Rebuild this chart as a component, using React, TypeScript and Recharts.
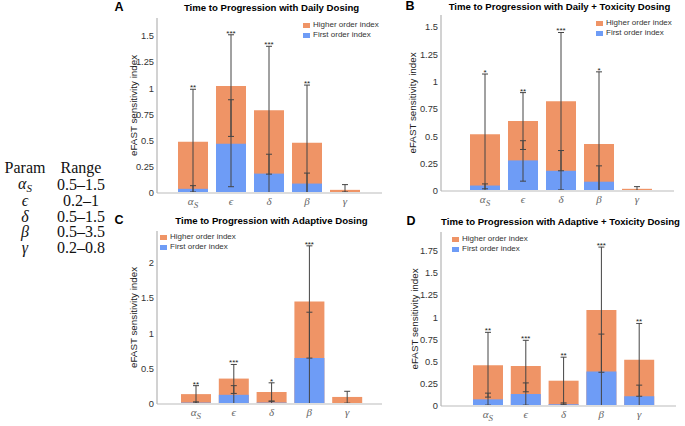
import React from 'react';
import { Bar, ComposedChart, ErrorBar, LabelList, Legend, Line, XAxis, YAxis } from 'recharts';

// parameters and their sampled ranges
const params = ['α_S', 'ϵ', 'δ', 'β', 'γ'];
const ranges = ['0.5–1.5', '0.2–1', '0.5–1.5', '0.5–3.5', '0.2–0.8'];
const seriesNames = ['Higher order index', 'First order index'];

// A: daily dosing
const dailyFirst = [0.04, 0.47, 0.185, 0.09, 0.005];
const dailyTotal = [0.49, 1.02, 0.79, 0.48, 0.03];
const dailyFirstCI = [[0.01, 0.07], [0.06, 0.89], [0, 0.37], [0, 0.19], [0, 0.01]];
const dailyTotalCI = [[0, 0.99], [0.54, 1.51], [0.18, 1.4], [0, 1.03], [0, 0.08]];
const dailyStars = ['**', '***', '***', '**', ''];

// B: daily + toxicity dosing
const dailyToxFirst = [0.05, 0.28, 0.185, 0.085, 0.003];
const dailyToxTotal = [0.52, 0.64, 0.82, 0.43, 0.02];
const dailyToxFirstCI = [[0.02, 0.065], [0.09, 0.46], [0.01, 0.37], [0, 0.23], [0, 0.005]];
const dailyToxTotalCI = [[0, 1.07], [0.38, 0.9], [0.185, 1.45], [0, 1.09], [0, 0.04]];
const dailyToxStars = ['*', '**', '***', '*', ''];

// C: adaptive dosing
const adaptiveFirst = [0.02, 0.13, 0.02, 0.65, 0.005];
const adaptiveTotal = [0.14, 0.36, 0.17, 1.45, 0.1];
const adaptiveFirstCI = [[0.01, 0.03], [0, 0.26], [0, 0.04], [0, 1.3], [0, 0.01]];
const adaptiveTotalCI = [[0.01, 0.26], [0.15, 0.56], [0.04, 0.3], [0.65, 2.24], [0.01, 0.18]];
const adaptiveStars = ['**', '***', '*', '***', ''];

// D: adaptive + toxicity dosing
const adaptiveToxFirst = [0.075, 0.135, 0.02, 0.39, 0.11];
const adaptiveToxTotal = [0.46, 0.45, 0.285, 1.08, 0.52];
const adaptiveToxFirstCI = [[0.01, 0.145], [0.01, 0.26], [0.01, 0.035], [0, 0.81], [0, 0.235]];
const adaptiveToxTotalCI = [[0.1, 0.83], [0.16, 0.74], [0.02, 0.55], [0.38, 1.79], [0.11, 0.93]];
const adaptiveToxStars = ['**', '***', '**', '***', '**'];

const ORANGE = '#ef9466';
const BLUE = '#6e9cf6';
const SANS = '"Liberation Sans", Arial, Helvetica, sans-serif';
const SERIF = '"Liberation Serif", "DejaVu Serif", serif';

function buildRows(first: number[], total: number[], firstCI: number[][], totalCI: number[][], stars: string[]) {
  return params.map((p, i) => ({
    param: p,
    first: first[i],
    total: total[i],
    firstErr: [first[i] - firstCI[i][0], firstCI[i][1] - first[i]],
    totalErr: [total[i] - totalCI[i][0], totalCI[i][1] - total[i]],
    top: totalCI[i][1],
    stars: stars[i],
  }));
}

function ParamTick({ x, y, payload }: any) {
  const [base, sub] = String(payload.value).split('_');
  return (
    <text x={x} y={y + 12} textAnchor="middle" fontFamily={SERIF} fontStyle="italic" fontSize={11} fill="#666">
      {base}
      {sub && (
        <tspan fontSize={9} dy={3}>
          {sub}
        </tspan>
      )}
    </text>
  );
}

function SwatchLegend() {
  const colors = [ORANGE, BLUE];
  return (
    <div style={{ fontFamily: SANS, fontSize: 8, color: '#333', lineHeight: '10px', whiteSpace: 'nowrap' }}>
      {seriesNames.map((name, i) => (
        <div key={name} style={{ display: 'flex', alignItems: 'center' }}>
          <span style={{ width: 7, height: 5, background: colors[i], marginRight: 3, display: 'inline-block' }} />
          {name}
        </div>
      ))}
    </div>
  );
}

type PanelProps = {
  letter: string;
  title: string;
  rows: any[];
  x0: number;
  x1: number;
  y0: number;
  y1: number;
  yMax: number;
  yTicks: number[];
  padL: number;
  padR: number;
  legendX: number;
  legendY: number;
  labelX: number;
  letterX: number;
  titleY: number;
};

function Panel(p: PanelProps) {
  const ML = 45;
  const MT = 10;
  const MB = 25;
  const MR = 5;
  const left = p.x0 - ML;
  const top = p.y0 - MT;
  const width = p.x1 - p.x0 + ML + MR;
  const height = p.y1 - p.y0 + MT + MB;
  const pad = { left: p.padL, right: p.padR };
  return (
    <>
      <div
        style={{
          position: 'absolute',
          left: p.letterX,
          top: p.titleY - 8,
          transform: 'translateX(-50%)',
          fontFamily: SANS,
          fontWeight: 'bold',
          fontSize: 12.5,
        }}
      >
        {p.letter}
      </div>
      <div
        style={{
          position: 'absolute',
          left: (p.x0 + p.x1) / 2 + 2,
          top: p.titleY - 6,
          transform: 'translateX(-50%)',
          fontFamily: SANS,
          fontWeight: 'bold',
          fontSize: 9.6,
          whiteSpace: 'nowrap',
        }}
      >
        {p.title}
      </div>
      <div style={{ position: 'absolute', left, top }}>
        <ComposedChart width={width} height={height} data={p.rows} margin={{ top: MT, right: MR, bottom: 0, left: 5 }}>
          <XAxis
            xAxisId="a"
            dataKey="param"
            height={MB}
            padding={pad}
            interval={0}
            tick={<ParamTick />}
            tickLine={false}
            tickSize={0}
            tickMargin={0}
            axisLine={{ stroke: '#dddddd', strokeWidth: 2 }}
          />
          <XAxis xAxisId="b" dataKey="param" hide padding={pad} />
          <YAxis
            width={40}
            domain={[0, p.yMax]}
            ticks={p.yTicks}
            allowDataOverflow
            tickLine={false}
            tickSize={0}
            tickMargin={3}
            axisLine={{ stroke: '#b4b4b4', strokeWidth: 1.2 }}
            tick={{ fontSize: 9.3, fontFamily: SANS, fill: '#333' }}
            label={{
              value: 'eFAST sensitivity index',
              angle: -90,
              position: 'insideLeft',
              offset: p.labelX - left - 5,
              style: { textAnchor: 'middle', fontSize: 9.8, fontFamily: SANS, fill: '#222' },
            }}
          />
          <Legend
            layout="vertical"
            align="center"
            verticalAlign="middle"
            content={<SwatchLegend />}
            wrapperStyle={{ left: p.legendX - left, top: p.legendY - top - 5, width: 'auto', height: 'auto' }}
          />
          <Bar xAxisId="a" dataKey="total" name={seriesNames[0]} fill={ORANGE} barSize={30} isAnimationActive={false}>
            <ErrorBar dataKey="totalErr" direction="y" width={3} stroke="#444" strokeWidth={1} isAnimationActive={false} />
          </Bar>
          <Bar xAxisId="b" dataKey="first" name={seriesNames[1]} fill={BLUE} barSize={30} isAnimationActive={false}>
            <ErrorBar dataKey="firstErr" direction="y" width={3} stroke="#444" strokeWidth={1} isAnimationActive={false} />
          </Bar>
          <Line
            xAxisId="a"
            dataKey="top"
            stroke="none"
            dot={false}
            activeDot={false}
            legendType="none"
            isAnimationActive={false}
          >
            <LabelList dataKey="stars" position="top" offset={-1} fontSize={8} fill="#222" fontFamily={SANS} />
          </Line>
        </ComposedChart>
      </div>
    </>
  );
}

function ParamTable() {
  const cell: React.CSSProperties = { height: 15.5, padding: 0, textAlign: 'center', lineHeight: '15.5px' };
  return (
    <table
      style={{
        position: 'absolute',
        left: 0,
        top: 160,
        borderCollapse: 'collapse',
        fontFamily: SERIF,
        fontSize: 16,
        color: '#111',
      }}
    >
      <tbody>
        <tr>
          <td style={{ ...cell, width: 50 }}>Param</td>
          <td style={{ ...cell, width: 62 }}>Range</td>
        </tr>
        {params.map((prm, i) => {
          const [base, sub] = prm.split('_');
          return (
            <tr key={prm}>
              <td style={{ ...cell, fontStyle: 'italic' }}>
                {base}
                {sub && <span style={{ fontSize: 11, position: 'relative', top: 3 }}>{sub}</span>}
              </td>
              <td style={cell}>{ranges[i]}</td>
            </tr>
          );
        })}
      </tbody>
    </table>
  );
}

export default function App() {
  return (
    <div style={{ position: 'absolute', left: 0, top: 0, width: 685, height: 426, background: '#fff', overflow: 'hidden' }}>
      <ParamTable />
      <Panel
        letter="A"
        title="Time to Progression with Daily Dosing"
        rows={buildRows(dailyFirst, dailyTotal, dailyFirstCI, dailyTotalCI, dailyStars)}
        x0={157}
        x1={382}
        y0={18}
        y1={193}
        yMax={1.67}
        yTicks={[0, 0.25, 0.5, 0.75, 1, 1.25, 1.5]}
        padL={17}
        padR={18}
        legendX={303}
        legendY={25}
        labelX={134}
        letterX={119}
        titleY={8}
      />
      <Panel
        letter="B"
        title="Time to Progression with Daily + Toxicity Dosing"
        rows={buildRows(dailyToxFirst, dailyToxTotal, dailyToxFirstCI, dailyToxTotalCI, dailyToxStars)}
        x0={441}
        x1={674}
        y0={15}
        y1={191}
        yMax={1.61}
        yTicks={[0, 0.25, 0.5, 0.75, 1, 1.25, 1.5]}
        padL={25}
        padR={18}
        legendX={596}
        legendY={23}
        labelX={413}
        letterX={410}
        titleY={7}
      />
      <Panel
        letter="C"
        title="Time to Progression with Adaptive Dosing"
        rows={buildRows(adaptiveFirst, adaptiveTotal, adaptiveFirstCI, adaptiveTotalCI, adaptiveStars)}
        x0={157}
        x1={382}
        y0={231}
        y1={404}
        yMax={2.45}
        yTicks={[0, 0.5, 1, 1.5, 2]}
        padL={20}
        padR={16}
        legendX={160}
        legendY={237}
        labelX={134}
        letterX={119}
        titleY={221}
      />
      <Panel
        letter="D"
        title="Time to Progression with Adaptive + Toxicity Dosing"
        rows={buildRows(adaptiveToxFirst, adaptiveToxTotal, adaptiveToxFirstCI, adaptiveToxTotalCI, adaptiveToxStars)}
        x0={441}
        x1={676}
        y0={232}
        y1={406}
        yMax={1.96}
        yTicks={[0, 0.25, 0.5, 0.75, 1, 1.25, 1.5, 1.75]}
        padL={28}
        padR={18}
        legendX={452}
        legendY={239}
        labelX={415}
        letterX={411}
        titleY={222}
      />
    </div>
  );
}
